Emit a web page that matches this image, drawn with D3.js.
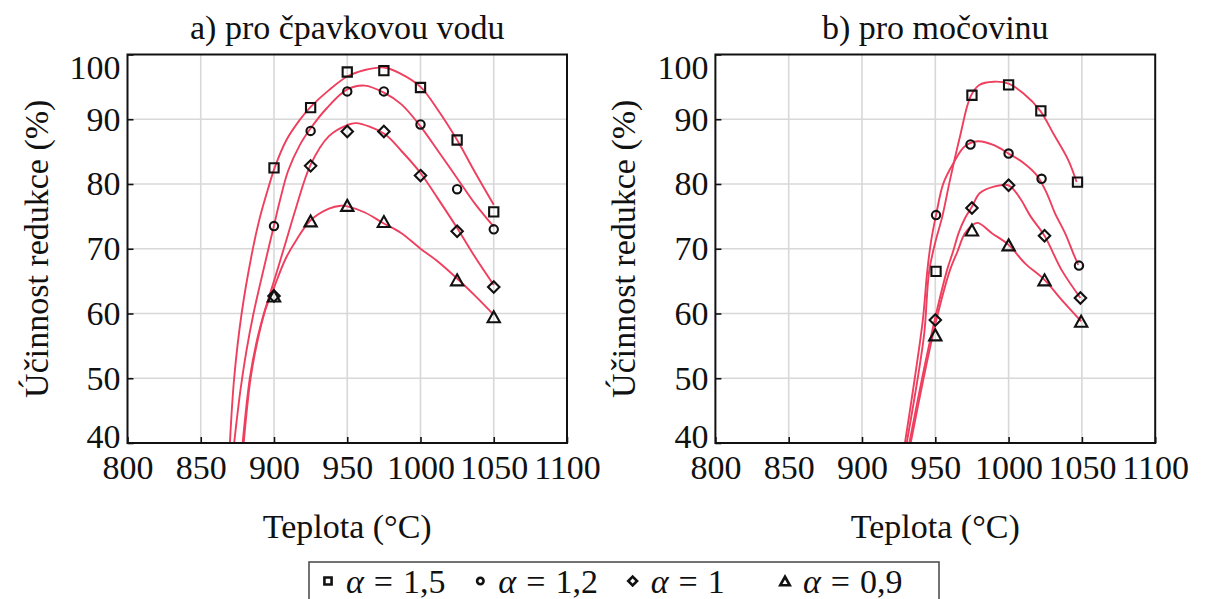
<!DOCTYPE html>
<html><head><meta charset="utf-8">
<script src="https://cdn.jsdelivr.net/npm/d3@7"></script>
<style>
body{margin:0;background:#fff}
text{font-family:"Liberation Serif","Times New Roman",serif;fill:#111}
</style>
</head><body>
<svg id="c" width="1207" height="599"></svg>
<script>
// ---------- tick labels / texts ----------
const xTicks = [800, 850, 900, 950, 1000, 1050, 1100];
const yTicks = [40, 50, 60, 70, 80, 90, 100];
const panelTitles = ["a) pro čpavkovou vodu", "b) pro močovinu"];
const xLabel = "Teplota (°C)";
const yLabel = "Účinnost redukce (%)";
const seriesAlpha = ["1,5", "1,2", "1", "0,9"];
const seriesSymbols = ["square", "circle", "diamond", "triangle"];

// ---------- panel a) measured points ----------
const aSqT = [900, 925, 950, 975, 1000, 1025, 1050];
const aSqV = [82.5, 91.8, 97.3, 97.5, 94.9, 86.8, 75.7];
const aCiT = [900, 925, 950, 975, 1000, 1025, 1050];
const aCiV = [73.5, 88.2, 94.3, 94.3, 89.2, 79.2, 73.0];
const aDiT = [900, 925, 950, 975, 1000, 1025, 1050];
const aDiV = [62.7, 82.8, 88.1, 88.1, 81.3, 72.7, 64.1];
const aTrT = [900, 925, 950, 975, 1025, 1050];
const aTrV = [62.7, 74.3, 76.7, 74.2, 65.2, 59.5];

// ---------- panel a) fitted curves ----------
const aSqCurveT = [869.9, 872.8, 877.9, 884.7, 890, 896, 900.6, 908.5, 917.6, 925, 937.5, 950, 962, 975, 986, 1000, 1012, 1025, 1037, 1050];
const aSqCurveV = [40, 50, 60, 69, 74.5, 79.3, 82.6, 86.8, 89.9, 91.9, 94.5, 96.6, 97.6, 98.0, 97.1, 95.0, 91.4, 86.8, 81.9, 76.8];
const aCiCurveT = [872.8, 877, 881, 886, 891, 896, 900, 904, 909.6, 917.6, 925, 936, 950, 962, 975, 987, 1000, 1012, 1025, 1037, 1050];
const aCiCurveV = [40, 48, 54, 60, 65, 69.8, 73.6, 77.4, 82.0, 86.0, 88.6, 91.7, 94.6, 95.2, 94.1, 92.3, 88.9, 85.1, 80.9, 77.0, 73.4];
const aDiCurveT = [878.6, 883.5, 888, 893.5, 900, 908, 915, 925, 937.5, 950, 956, 975, 987, 1000, 1012, 1025, 1037, 1050];
const aDiCurveV = [40, 50, 55.5, 60.3, 65, 71, 76.3, 83, 87.4, 89.1, 89.4, 87.8, 85.1, 81.7, 77.7, 73.2, 68.8, 64.4];
const aTrCurveT = [879.3, 884, 888.5, 894, 900, 908, 915.4, 925, 937.5, 945.5, 950, 962, 975, 987, 1000, 1012, 1025, 1037, 1050];
const aTrCurveV = [40, 50, 55.5, 60.5, 64, 68.5, 71.4, 74.4, 76.2, 76.65, 76.55, 75.6, 73.9, 72.4, 70.0, 68.0, 65.4, 62.8, 59.8];

// ---------- panel b) measured points ----------
const bSqT = [950.5, 975, 1000, 1022, 1047];
const bSqV = [66.5, 93.7, 95.3, 91.3, 80.3];
const bCiT = [950.5, 974, 1000, 1022.5, 1048];
const bCiV = [75.2, 86.1, 84.7, 80.8, 67.4];
const bDiT = [950, 975, 1000, 1024.5, 1049];
const bDiV = [59.0, 76.3, 79.8, 72.0, 62.4];
const bTrT = [950, 975, 1000, 1024.5, 1049.5];
const bTrV = [56.7, 72.9, 70.6, 65.2, 58.8];

// ---------- panel b) fitted curves ----------
const bSqCurveT = [930.5, 938, 942.5, 945.8, 950, 954.8, 960, 966.8, 974, 980, 990, 1000, 1010, 1021.6, 1030.5, 1040.7, 1046.4];
const bSqCurveV = [40, 50, 57, 66.5, 71, 75, 80.6, 87.3, 93.5, 95.3, 95.8, 95.5, 94.0, 91.3, 87.8, 83.7, 80.3];
const bCiCurveT = [929.3, 936, 941.5, 944.5, 947, 950.5, 955.5, 962.3, 970, 979, 990, 1000, 1010, 1019, 1026, 1031.6, 1038.5, 1044.1, 1047.5];
const bCiCurveV = [40, 50, 59, 66.5, 71, 75.2, 80.1, 83.2, 85.8, 86.6, 86.0, 84.7, 83.3, 81.4, 78.6, 75.5, 72.4, 69.3, 67.5];
const bDiCurveT = [932.3, 941, 949.6, 958, 962, 966, 970, 975, 980.4, 990, 1000, 1007.8, 1015, 1024.5, 1036.2, 1049];
const bDiCurveV = [40, 50, 59, 66.7, 69.5, 72.5, 74.6, 76.5, 78.6, 79.6, 79.8, 77.8, 75.0, 72.0, 66.7, 62.4];
const bTrCurveT = [933.2, 942, 950.7, 960, 965, 970, 975, 979, 988.6, 1000, 1011.2, 1024.5, 1036.2, 1049.5];
const bTrCurveV = [40, 50, 59, 66.7, 69.5, 72.3, 73.6, 74.0, 72.4, 70.6, 67.75, 65.2, 62.1, 58.8];

// ---------- assemble ----------
const panels = [
  { title: panelTitles[0], x0: 127.5, x1: 567,
    points: [[aSqT, aSqV], [aCiT, aCiV], [aDiT, aDiV], [aTrT, aTrV]],
    curves: [[aSqCurveT, aSqCurveV], [aCiCurveT, aCiCurveV], [aDiCurveT, aDiCurveV], [aTrCurveT, aTrCurveV]] },
  { title: panelTitles[1], x0: 715.4, x1: 1155.2,
    points: [[bSqT, bSqV], [bCiT, bCiV], [bDiT, bDiV], [bTrT, bTrV]],
    curves: [[bSqCurveT, bSqCurveV], [bCiCurveT, bCiCurveV], [bDiCurveT, bDiCurveV], [bTrCurveT, bTrCurveV]] }
];

const svg = d3.select("#c");
const yTop = 54.5, yBot = 443;
const curveColor = "#ef3f5e";
const FS = 34;

function symPath(kind, s) {
  if (kind === "square") { const h = s * 0.42; return `M${-h},${-h}H${h}V${h}H${-h}Z`; }
  if (kind === "circle") { const r = s * 0.38; return `M${r},0A${r},${r} 0 1,1 ${-r},0A${r},${r} 0 1,1 ${r},0Z`; }
  if (kind === "diamond") { const h = s * 0.52; return `M0,${-h}L${h},0L0,${h}L${-h},0Z`; }
  const w = s * 0.56, hh = s * 0.5; return `M0,${-hh}L${w},${hh}L${-w},${hh}Z`;
}

panels.forEach((p, pi) => {
  const x = d3.scaleLinear().domain([800, 1100]).range([p.x0, p.x1]);
  const y = d3.scaleLinear().domain([40, 100]).range([yBot, yTop]);
  const g = svg.append("g");

  // grid
  g.append("g").selectAll("line").data(xTicks.slice(1, -1)).join("line")
    .attr("x1", d => x(d)).attr("x2", d => x(d)).attr("y1", yTop).attr("y2", yBot)
    .attr("stroke", "#d8d8d8").attr("stroke-width", 1.6);
  g.append("g").selectAll("line").data(yTicks.slice(1, -1)).join("line")
    .attr("y1", d => y(d)).attr("y2", d => y(d)).attr("x1", p.x0).attr("x2", p.x1)
    .attr("stroke", "#d8d8d8").attr("stroke-width", 1.6);

  // axes (inward ticks)
  const xAxis = d3.axisBottom(x).tickValues(xTicks).tickSize(-6).tickPadding(16).tickFormat(d3.format("d"));
  const yAxis = d3.axisLeft(y).tickValues(yTicks).tickSize(-6).tickPadding(7).tickFormat(d3.format("d"));
  const gx = g.append("g").attr("transform", `translate(0,${yBot})`).call(xAxis);
  const gy = g.append("g").attr("transform", `translate(${p.x0},0)`).call(yAxis);
  [gx, gy].forEach(a => {
    a.select(".domain").remove();
    a.selectAll(".tick line").attr("stroke", "#111").attr("stroke-width", 1.6);
    a.selectAll(".tick text").attr("font-family", "Liberation Serif, serif").attr("font-size", FS).attr("fill", "#111");
  });
  gx.selectAll(".tick text").attr("dy", "0.6em");
  gy.selectAll(".tick text").attr("dy", d => d === 100 ? "0.7em" : d === 40 ? "0.13em" : "0.32em");

  // curves
  const clipId = "clip" + pi;
  svg.append("clipPath").attr("id", clipId).append("rect")
    .attr("x", p.x0).attr("y", yTop).attr("width", p.x1 - p.x0).attr("height", yBot - yTop);
  const line = d3.line().x(d => x(d[0])).y(d => y(d[1])).curve(d3.curveCatmullRom.alpha(0.5));
  g.append("g").attr("clip-path", `url(#${clipId})`).selectAll("path")
    .data(p.curves.map(c => c[0].map((t, i) => [t, c[1][i]]))).join("path")
    .attr("d", line).attr("fill", "none").attr("stroke", curveColor).attr("stroke-width", 1.9);

  // frame
  g.append("rect").attr("x", p.x0).attr("y", yTop).attr("width", p.x1 - p.x0).attr("height", yBot - yTop)
    .attr("fill", "none").attr("stroke", "#111").attr("stroke-width", 2);

  // markers
  p.points.forEach((s, si) => {
    g.append("g").selectAll("path").data(s[0].map((t, i) => [t, s[1][i]])).join("path")
      .attr("transform", d => `translate(${x(d[0])},${y(d[1])})`)
      .attr("d", symPath(seriesSymbols[si], 11))
      .attr("fill", "none").attr("stroke", "#111").attr("stroke-width", 2.1);
  });

  // titles and labels
  const cx = (p.x0 + p.x1) / 2;
  g.append("text").attr("x", cx).attr("y", 39).attr("text-anchor", "middle").attr("font-size", FS).text(p.title);
  g.append("text").attr("x", cx).attr("y", 538).attr("text-anchor", "middle").attr("font-size", FS).text(xLabel);
  g.append("text").attr("transform", `translate(${p.x0 - 80},${(yTop + yBot) / 2}) rotate(-90)`)
    .attr("text-anchor", "middle").attr("font-size", FS).text(yLabel);
});

// legend
const lg = svg.append("g");
lg.append("rect").attr("x", 309).attr("y", 562).attr("width", 630).attr("height", 60)
  .attr("fill", "#fff").attr("stroke", "#444").attr("stroke-width", 1.5);
const legX = d3.scalePoint().domain(seriesAlpha).range([328, 785]);
seriesAlpha.forEach((a, i) => {
  const lx = legX(a);
  lg.append("path").attr("transform", `translate(${lx},${581})`)
    .attr("d", symPath(seriesSymbols[i], 8.5)).attr("fill", "none").attr("stroke", "#111").attr("stroke-width", 2.6);
  const t = lg.append("text").attr("x", lx + 18).attr("y", 593).attr("font-size", FS);
  t.append("tspan").attr("font-style", "italic").text("α");
  t.append("tspan").attr("dx", 10).text("=");
  t.append("tspan").attr("dx", 10).text(a);
});
</script>
</body></html>
